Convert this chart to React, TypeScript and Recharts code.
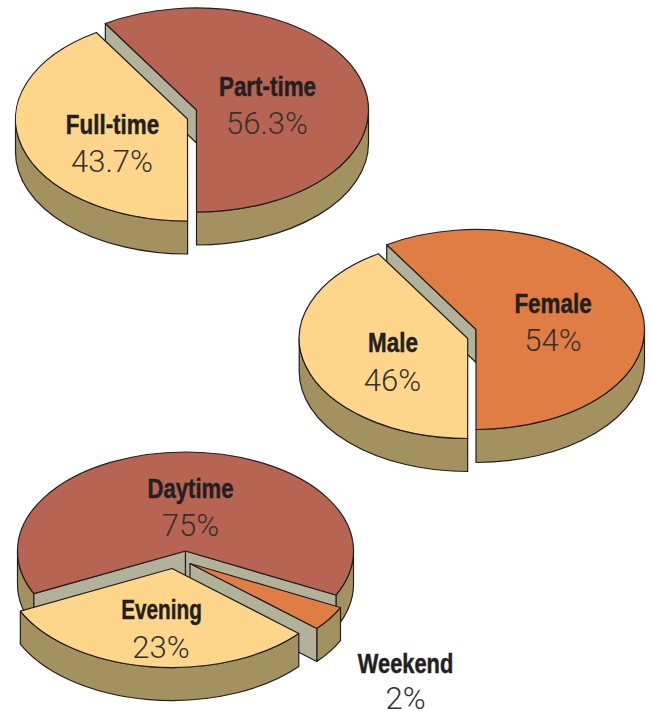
import React from "react";
import { PieChart, Pie } from "recharts";

// ---- data ----
const statusNames = ["Part-time", "Full-time"];
const statusValues = [56.3, 43.7];
const statusLabels = ["56.3%", "43.7%"];

const genderNames = ["Female", "Male"];
const genderValues = [54, 46];
const genderLabels = ["54%", "46%"];

const timeNames = ["Daytime", "Weekend", "Evening"];
const timeValues = [75, 2, 23];
const timeLabels = ["75%", "2%", "23%"];

// ---- palette ----
const RED = "#b76552";
const ORANGE = "#e07d45";
const YELLOW = "#fdd68b";
const SIDE = "#a39260";
const CUT = "#b2b29b";
const INK = "#231f20";
const VALUE_INK = "#363031";

// ---- layout ----
type Layout = {
  cx: number; cy: number; rx: number; ry: number; depth: number;
  start: number; end: number;
  stretch: number[];                 // perspective correction of each slice's sweep
  offset: [number, number][];        // explosion of each slice
  fills: string[];
  labelPos: [number, number, number, number][]; // name x, name baseline, value x, value baseline
  nameScale: number[];               // horizontal condensing of the bold names
};

const statusLayout: Layout = {
  cx: 196.5, cy: 110, rx: 172, ry: 102, depth: 33,
  start: 270, end: 630,
  stretch: [1.046, 0.941],
  offset: [[0, 0], [-9, 9]],
  fills: [RED, YELLOW],
  labelPos: [[267.5, 96, 267, 133.5], [112.5, 134, 112, 172]],
  nameScale: [0.8, 0.8],
};
const genderLayout: Layout = {
  cx: 476, cy: 329.5, rx: 168.5, ry: 100, depth: 33,
  start: 270, end: 630,
  stretch: [1.0905, 0.8937],
  offset: [[0, 0], [-8.3, 9]],
  fills: [ORANGE, YELLOW],
  labelPos: [[553, 312.5, 553, 350.5], [393, 352, 392.5, 390.5]],
  nameScale: [0.8, 0.8],
};
const timeLayout: Layout = {
  cx: 185.5, cy: 551, rx: 168, ry: 99, depth: 33,
  start: 205.5, end: -154.5,
  stretch: [0.8589, 2.028, 1.371],
  offset: [[0, 0], [4.5, 12.5], [-13.5, 17.5]],
  fills: [RED, ORANGE, YELLOW],
  labelPos: [[190.5, 498, 190.5, 535.5], [405.5, 672.5, 405.5, 709], [161.5, 618.5, 161, 657.5]],
  nameScale: [0.79, 0.78, 0.74],
};

const rad = (d: number) => (d * Math.PI) / 180;

function warpAngle(angle: number, l: Layout, values: number[]) {
  const total = values.reduce((a, b) => a + b, 0);
  const t = (angle - l.start) / (l.end - l.start);
  let cumTrue = 0;
  let cumDrawn = 0;
  for (let i = 0; i < values.length; i++) {
    const w = values[i] / total;
    const d = w * l.stretch[i];
    if (t <= cumTrue + w + 1e-9 || i === values.length - 1) {
      return l.start + (l.end - l.start) * (cumDrawn + ((t - cumTrue) / w) * d);
    }
    cumTrue += w;
    cumDrawn += d;
  }
  return angle;
}

function makeShape(l: Layout, names: string[], values: number[]) {
  return function Slice3D(props: any) {
    const name = props.payload?.name ?? props.name;
    const i = names.indexOf(name);
    const [ox, oy] = l.offset[i];
    const cx = props.cx + ox;
    const cy = props.cy + oy;
    const ratio = l.ry / l.rx;
    const rx = props.outerRadius;
    const ry = rx * ratio;
    const a = warpAngle(props.startAngle, l, values);
    const b = warpAngle(props.endAngle, l, values);
    const dir = Math.sign(b - a);
    const low = Math.min(a, b);
    const high = Math.max(a, b);
    const P = (d: number, dy = 0) =>
      `${(cx + rx * Math.cos(rad(d))).toFixed(2)} ${(cy - ry * Math.sin(rad(d)) + dy).toFixed(2)}`;
    const ink = { stroke: INK, strokeWidth: 1.2, strokeLinejoin: "round" as const };

    const sides: string[] = [];
    for (let k = -2; k <= 2; k++) {
      const iLow = Math.max(low, 180 + 360 * k);
      const iHigh = Math.min(high, 360 + 360 * k);
      if (iHigh > iLow) {
        sides.push(
          `M${P(iLow)} A${rx} ${ry} 0 0 0 ${P(iHigh)} L${P(iHigh, l.depth)} A${rx} ${ry} 0 0 1 ${P(iLow, l.depth)} Z`
        );
      }
    }

    const centre = (dy = 0) => `${cx} ${cy + dy}`;
    const cuts: string[] = [];
    const faces: [number, number][] = [[a, a - dir * 90], [b, b + dir * 90]];
    faces.forEach(([edge, normal]) => {
      if (Math.sin(rad(normal)) < -0.01) {
        cuts.push(`M${centre()} L${P(edge)} L${P(edge, l.depth)} L${centre(l.depth)} Z`);
      }
    });

    const large = high - low > 180 ? 1 : 0;
    const top = `M${centre()} L${P(low)} A${rx} ${ry} 0 ${large} 0 ${P(high)} Z`;

    return (
      <g>
        {sides.map((d, n) => <path key={`s${n}`} d={d} fill={SIDE} {...ink} />)}
        {cuts.map((d, n) => <path key={`c${n}`} d={d} fill={CUT} {...ink} />)}
        <path d={top} fill={l.fills[i]} {...ink} />
      </g>
    );
  };
}

function makeLabel(l: Layout, names: string[], labels: string[]) {
  return function SliceLabel(props: any) {
    const name = props.payload?.name ?? props.name;
    const i = names.indexOf(name);
    const [nx, ny, vx, vy] = l.labelPos[i];
    return (
      <g>
        <text x={0} y={0} transform={`translate(${nx} ${ny}) scale(${l.nameScale[i]} 1)`} textAnchor="middle"
          fill={INK} stroke={INK} strokeWidth={0.5}
          style={{ fontFamily: '"Liberation Sans", sans-serif', fontWeight: 700, fontSize: 28 }}>
          {name}
        </text>
        <text x={vx} y={vy} textAnchor="middle" fill={VALUE_INK}
          style={{ fontFamily: 'Roboto, "Liberation Sans", sans-serif', fontWeight: 300, fontSize: 31 }}>
          {labels[i]}
        </text>
      </g>
    );
  };
}

function table(names: string[], values: number[]) {
  return names.map((name, i) => ({ name, value: values[i] }));
}

function pieFor(key: string, l: Layout, names: string[], values: number[], labels: string[]) {
  const extra: any = { shape: makeShape(l, names, values) };
  return (
    <Pie
      key={key}
      data={table(names, values)}
      dataKey="value"
      nameKey="name"
      cx={l.cx}
      cy={l.cy}
      innerRadius={0}
      outerRadius={l.rx}
      startAngle={l.start}
      endAngle={l.end}
      paddingAngle={0}
      labelLine={false}
      label={makeLabel(l, names, labels)}
      isAnimationActive={false}
      {...extra}
    />
  );
}

export default function App() {
  return (
    <div style={{ position: "absolute", left: 0, top: 0, width: 652, height: 711 }}>
      <PieChart width={652} height={711} margin={{ top: 0, right: 0, bottom: 0, left: 0 }}>
        {pieFor("status", statusLayout, statusNames, statusValues, statusLabels)}
        {pieFor("gender", genderLayout, genderNames, genderValues, genderLabels)}
        {pieFor("time", timeLayout, timeNames, timeValues, timeLabels)}
      </PieChart>
    </div>
  );
}
